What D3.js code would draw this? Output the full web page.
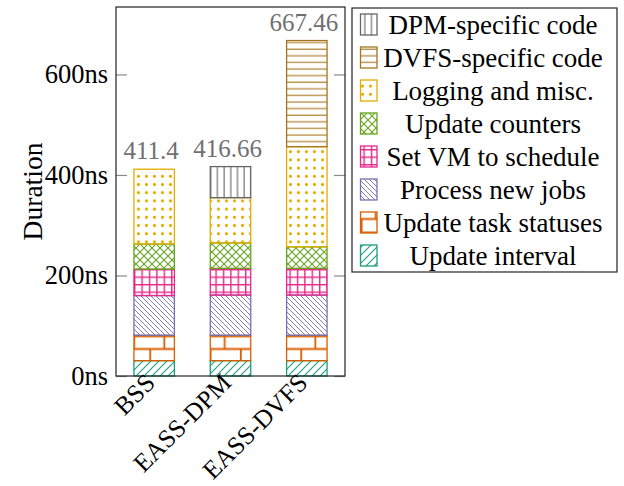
<!DOCTYPE html>
<html>
<head>
<meta charset="utf-8">
<script src="https://cdn.jsdelivr.net/npm/d3@7"></script>
<style>
  html, body { margin: 0; padding: 0; background: #fff; }
  svg { display: block; font-family: "Liberation Serif", "DejaVu Serif", serif; }
</style>
</head>
<body>
<svg id="chart" width="624" height="486"></svg>
<script>
// Schedulers on the x axis
const categories = ["BSS", "EASS-DPM", "EASS-DVFS"];

// Stack layers, bottom to top
const seriesNames = [
  "Update interval",
  "Update task statuses",
  "Process new jobs",
  "Set VM to schedule",
  "Update counters",
  "Logging and misc.",
  "DVFS-specific code",
  "DPM-specific code"
];

// Duration per layer (ns), one value per scheduler
const updateInterval   = [30.5, 30.5, 30.5];
const updateStatuses   = [50.5, 50.5, 50.5];
const processJobs      = [79, 80, 80];
const setVM            = [52.5, 53, 53];
const updateCounters   = [50, 50.5, 43];
const loggingMisc      = [148.9, 90.3, 199.3];
const dvfsSpecific     = [0, 0, 211.16];
const dpmSpecific      = [0, 61.86, 0];

const seriesValues = [
  updateInterval, updateStatuses, processJobs, setVM,
  updateCounters, loggingMisc, dvfsSpecific, dpmSpecific
];

const yTicks = [0, 200, 400, 600];

const colors = ["#1b9e77", "#d95f02", "#7570b3", "#e7298a",
                "#66a61e", "#e6ab02", "#a6761d", "#666666"];

const svg = d3.select("#chart");
const defs = svg.append("defs");

// ---- fill patterns ----
function pat(id, w, h, x, y) {
  return defs.append("pattern").attr("id", id)
    .attr("patternUnits", "userSpaceOnUse")
    .attr("width", w).attr("height", h)
    .attr("x", x || 0).attr("y", y || 0);
}
// north-east lines
(function () {
  const p = pat("p0", 8, 8), c = colors[0];
  p.append("path").attr("d", "M0,8L8,0M-2,2L2,-2M6,10L10,6")
    .attr("stroke", c).attr("stroke-width", 1.1);
})();
// bricks
(function () {
  const p = pat("p1", 30.2, 26, 149.3, 335.5), c = colors[1];
  p.append("path")
    .attr("d", "M0,0.9H30.2M0,13.5H30.2M15,0V13.5M0.9,13.5V26")
    .attr("stroke", c).attr("stroke-width", 1.8).attr("fill", "none");
})();
// north-west lines (dense)
(function () {
  const p = pat("p2", 5, 5), c = colors[2];
  p.append("path").attr("d", "M0,0L5,5M-1,4L1,6M4,-1L6,1")
    .attr("stroke", c).attr("stroke-width", 0.9);
})();
// grid
(function () {
  const p = pat("p3", 7.4, 7.5, 134, 269), c = colors[3];
  p.append("path").attr("d", "M0.7,0V7.5M0,0.7H7.4")
    .attr("stroke", c).attr("stroke-width", 1.4);
})();
// crosshatch
(function () {
  const p = pat("p4", 8, 8), c = colors[4];
  p.append("path").attr("d", "M0,0L8,8M0,8L8,0")
    .attr("stroke", c).attr("stroke-width", 1.1);
})();
// dots
(function () {
  const p = pat("p5", 8, 8.2, 134, 0), c = colors[5];
  p.append("circle").attr("cx", 4.5).attr("cy", 4).attr("r", 1.6).attr("fill", c);
})();
// horizontal lines
(function () {
  const p = pat("p6", 8, 6.6), c = colors[6];
  p.append("path").attr("d", "M0,3H8").attr("stroke", c).attr("stroke-width", 1.1);
})();
// vertical lines
(function () {
  const p = pat("p7", 6.7, 8, 134, 0), c = colors[7];
  p.append("path").attr("d", "M3,0V8").attr("stroke", c).attr("stroke-width", 1.1);
})();

// ---- layout ----
const plot = { left: 116, right: 345, top: 7, bottom: 376 };

const totals = categories.map((_, i) => d3.sum(seriesValues, s => s[i]));
const yMax = d3.max(totals) * 1.1;

const x = d3.scaleBand().domain(categories)
  .range([plot.left, plot.right])
  .paddingInner(0.47).paddingOuter(0.235);
const y = d3.scaleLinear().domain([0, yMax]).range([plot.bottom, plot.top]);

// stacked rows
const rows = categories.map((c, i) => {
  const r = { cat: c };
  seriesNames.forEach((n, k) => { r[n] = seriesValues[k][i]; });
  return r;
});
const stacked = d3.stack().keys(seriesNames)(rows);

const g = svg.append("g");
stacked.forEach((layer, k) => {
  g.selectAll(null).data(layer.filter(d => d[1] - d[0] > 0)).enter()
    .append("rect")
    .attr("x", d => x(d.data.cat))
    .attr("width", x.bandwidth())
    .attr("y", d => y(d[1]))
    .attr("height", d => y(d[0]) - y(d[1]))
    .attr("fill", "url(#p" + k + ")")
    .attr("stroke", colors[k])
    .attr("stroke-width", 1.3);
});

// totals above bars
g.selectAll(null).data(categories).enter().append("text")
  .attr("x", (c) => x(c) + x.bandwidth() / 2 - 3)
  .attr("y", (c, i) => y(totals[i]) - 10)
  .attr("text-anchor", "middle")
  .attr("font-size", 25)
  .attr("fill", "#707070")
  .text((c, i) => String(+totals[i].toFixed(2)));

// ---- axes ----
const yAxisL = d3.axisLeft(y).tickValues(yTicks).tickSize(-11).tickPadding(8)
  .tickFormat(d => d + "ns");
const ga = svg.append("g").attr("transform", `translate(${plot.left},0)`).call(yAxisL);
ga.select(".domain").remove();
ga.selectAll(".tick line").attr("stroke", "#8a8a8a").attr("stroke-width", 1.2);
ga.selectAll(".tick text").attr("font-size", 26.5).attr("fill", "#000")
  .attr("font-family", "Liberation Serif").attr("x", -8);

const yAxisR = d3.axisRight(y).tickValues(yTicks).tickSize(-11).tickFormat("");
const gr = svg.append("g").attr("transform", `translate(${plot.right},0)`).call(yAxisR);
gr.select(".domain").remove();
gr.selectAll(".tick line").attr("stroke", "#8a8a8a").attr("stroke-width", 1.2);

// frame
svg.append("rect")
  .attr("x", plot.left).attr("y", plot.top)
  .attr("width", plot.right - plot.left).attr("height", plot.bottom - plot.top)
  .attr("fill", "none").attr("stroke", "#222").attr("stroke-width", 1.2);

// x tick labels, rotated
svg.append("g").selectAll("text").data(categories).enter().append("text")
  .attr("transform", c => `translate(${x(c) + x.bandwidth() / 2 - 4},${plot.bottom + 2}) rotate(-45)`)
  .attr("text-anchor", "end")
  .attr("dy", "0.35em")
  .attr("font-size", 25.5)
  .attr("fill", "#000")
  .text(c => c);

// y axis title
svg.append("text")
  .attr("transform", `translate(32,${(plot.top + plot.bottom) / 2}) rotate(-90)`)
  .attr("text-anchor", "middle")
  .attr("dy", "0.35em")
  .attr("font-size", 27.5)
  .text("Duration");

// ---- legend ----
const leg = { x: 352, y: 8, w: 265, h: 264 };
svg.append("rect").attr("x", leg.x).attr("y", leg.y)
  .attr("width", leg.w).attr("height", leg.h)
  .attr("fill", "#fff").attr("stroke", "#222").attr("stroke-width", 1.2);

const legendOrder = d3.range(seriesNames.length).reverse();
const lg = svg.append("g");
legendOrder.forEach((k, j) => {
  const cy = 24.5 + j * 33;
  lg.append("rect")
    .attr("x", 360.5).attr("y", cy - 10.5)
    .attr("width", 16.5).attr("height", 21)
    .attr("fill", "url(#p" + k + ")")
    .attr("stroke", colors[k]).attr("stroke-width", 1.3);
  lg.append("text")
    .attr("x", 493).attr("y", cy)
    .attr("dy", "0.35em")
    .attr("text-anchor", "middle")
    .attr("font-size", 27)
    .text(seriesNames[k]);
});
</script>
</body>
</html>
